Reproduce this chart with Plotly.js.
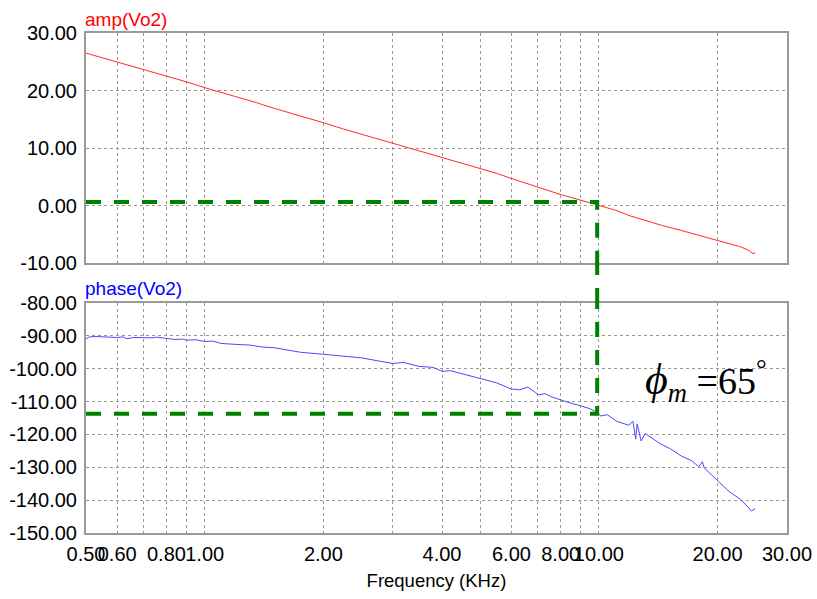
<!DOCTYPE html>
<html>
<head>
<meta charset="utf-8">
<script src="https://cdn.plot.ly/plotly-3.0.1.min.js"></script>
<style>html,body{margin:0;padding:0;background:#fff;}#chart{width:817px;height:599px;}</style>
</head>
<body>
<div id="chart"></div>
<script>
// ---- data ----
const ampFreq = [0.50,0.55,0.60,0.65,0.70,0.75,0.80,0.85,0.90,1.00,1.10,1.20,1.35,1.50,1.75,2.00,2.25,2.50,2.75,3.00,3.50,4.00,4.50,5.00,5.50,6.00,6.50,7.00,7.50,8.00,8.50,9.00,9.50,10.0,11.0,12.0,13.2,14.5,16.1,18.0,20.0,21.5,22.9,24.0,24.6,24.9];
const ampDb   = [26.5,25.7,25.0,24.3,23.6,23.0,22.5,22.0,21.5,20.5,19.7,18.9,17.9,16.9,15.6,14.4,13.3,12.4,11.6,10.9,9.5,8.4,7.4,6.4,5.6,4.7,3.9,3.1,2.5,1.9,1.4,0.9,0.5,0.05,-0.8,-1.8,-2.7,-3.5,-4.3,-5.2,-6.0,-6.6,-7.2,-7.8,-8.4,-8.2];

const phaseFreq = [0.50,0.51,0.53,0.56,0.58,0.60,0.62,0.634,0.66,0.70,0.74,0.756,0.80,0.84,0.88,0.90,0.95,1.00,1.05,1.10,1.20,1.30,1.40,1.50,1.62,1.75,2.00,2.25,2.50,2.75,3.00,3.20,3.50,3.80,4.00,4.20,4.50,4.80,5.00,5.50,6.00,6.30,6.60,6.90,7.00,7.30,7.60,8.00,8.50,9.00,9.50,9.90,10.1,10.5,11.1,11.9,12.2,12.4,12.5,12.8,13.1,14.3,15.2,16.2,17.2,17.9,18.3,18.5,20.0,21.0,21.4,22.9,24.4,24.9];
const phaseDeg  = [-90.9,-90.3,-90.2,-90.4,-90.3,-90.5,-90.3,-90.9,-90.5,-90.6,-90.6,-90.4,-90.9,-91.1,-91.0,-91.3,-91.2,-91.7,-91.6,-92.3,-92.6,-92.8,-93.4,-93.6,-94.3,-95.0,-95.6,-96.1,-96.7,-97.6,-98.4,-98.1,-99.3,-99.6,-100.8,-100.6,-101.5,-102.4,-103.1,-104.3,-106.2,-106.4,-105.6,-107.2,-108.0,-107.6,-108.6,-109.5,-110.5,-111.3,-112.2,-113.3,-114.4,-114.0,-116.0,-117.2,-116.0,-121.4,-116.8,-122.0,-119.7,-122.8,-124.4,-126.6,-128.0,-129.8,-128.3,-130.2,-134.2,-136.6,-137.4,-139.8,-143.3,-142.6];

// crossover marker values (frequency, gain, phase)
const crossFreq = 9.9;
const crossGain = 0.6;
const crossPhase = -113.7;
const phaseMarginText = '<span style="font-size:44px"><i>ϕ</i></span><sub><i>m</i></sub> =65<sup>°</sup>';

// tick labels
const xTickVals = [0.5,0.6,0.7,0.8,0.9,1,2,3,4,5,6,7,8,9,10,20,30];
const xTickText = ['0.50','0.60','','0.80','','1.00','2.00','','4.00','','6.00','','8.00','','10.00','20.00','30.00'];
const ampTickVals = [30,20,10,0,-10];
const ampTickText = ['30.00','20.00','10.00','0.00','-10.00'];
const phaseTickVals = [-80,-90,-100,-110,-120,-130,-140,-150];
const phaseTickText = ['-80.00','-90.00','-100.00','-110.00','-120.00','-130.00','-140.00','-150.00'];

// ---- chart ----
const GREEN = '#008000';
const dashG = {color: GREEN, width: 4, dash: '15px,13px'};
const fnt = 'Liberation Sans, Arial, sans-serif';

const traces = [
  {x: ampFreq, y: ampDb, xaxis: 'x2', yaxis: 'y', mode: 'lines', line: {color: '#ff2a2a', width: 1}, hoverinfo: 'skip'},
  {x: phaseFreq, y: phaseDeg, xaxis: 'x', yaxis: 'y2', mode: 'lines', line: {color: '#4a4aff', width: 1}, hoverinfo: 'skip'},
  {x: [ampFreq[0], crossFreq, crossFreq], y: [crossGain, crossGain, ampTickVals[ampTickVals.length-1]], xaxis: 'x2', yaxis: 'y', mode: 'lines', line: dashG, hoverinfo: 'skip'},
  {x: [phaseFreq[0], crossFreq, crossFreq], y: [crossPhase, crossPhase, phaseTickVals[0]], xaxis: 'x', yaxis: 'y2', mode: 'lines', line: dashG, hoverinfo: 'skip'}
];

const xBase = {
  type: 'log', range: [Math.log10(0.5), Math.log10(30)],
  tickvals: xTickVals, ticktext: xTickText, tickangle: 0,
  showgrid: true, gridcolor: '#999', griddash: 'dot', gridwidth: 1,
  showline: true, linecolor: '#9a9a9a', linewidth: 2, mirror: true,
  zeroline: false, ticks: '', fixedrange: true,
  tickfont: {family: fnt, size: 20, color: '#000'}
};

const yBase = {
  showgrid: true, gridcolor: '#999', griddash: 'dot', showline: true, linecolor: '#9a9a9a', linewidth: 2, mirror: true,
  zeroline: false, ticks: '', ticklabelstandoff: 3, tickfont: {family: fnt, size: 20, color: '#000'}
};

const layout = {
  width: 817, height: 599,
  margin: {l: 86, r: 30, t: 33, b: 66},
  paper_bgcolor: '#fff', plot_bgcolor: '#fff',
  showlegend: false,
  xaxis: Object.assign({}, xBase, {anchor: 'y2', ticklabelstandoff: 2,
    title: {text: 'Frequency (KHz)', font: {family: fnt, size: 18.5, color: '#000'}, standoff: 10}}),
  xaxis2: Object.assign({}, xBase, {anchor: 'y', matches: 'x', showticklabels: false}),
  yaxis: Object.assign({}, yBase, {domain: [0.54, 1], range: [-10, 30], tickvals: ampTickVals, ticktext: ampTickText}),
  yaxis2: Object.assign({}, yBase, {domain: [0, 0.46], range: [-150, -80], tickvals: phaseTickVals, ticktext: phaseTickText}),
  shapes: [
    {type: 'line', xref: 'x', yref: 'paper', x0: crossFreq, x1: crossFreq, y0: 0.46, y1: 0.54,
     line: {color: GREEN, width: 4, dash: '15px,13px'}}
  ],
  annotations: [
    {xref: 'paper', yref: 'paper', x: -0.004, y: 1.003, xanchor: 'left', yanchor: 'bottom', showarrow: false,
     text: 'amp(Vo2)', font: {family: fnt, size: 19, color: '#ff0000'}},
    {xref: 'paper', yref: 'paper', x: -0.004, y: 0.463, xanchor: 'left', yanchor: 'bottom', showarrow: false,
     text: 'phase(Vo2)', font: {family: fnt, size: 19, color: '#0000ff'}},
    {xref: 'paper', yref: 'paper', x: 0.794, y: 0.305, xanchor: 'left', yanchor: 'middle', showarrow: false,
     text: phaseMarginText, font: {family: 'Liberation Serif, Times New Roman, serif', size: 38, color: '#000'}}
  ]
};

Plotly.newPlot('chart', traces, layout, {staticPlot: true, displayModeBar: false});
</script>
</body>
</html>
